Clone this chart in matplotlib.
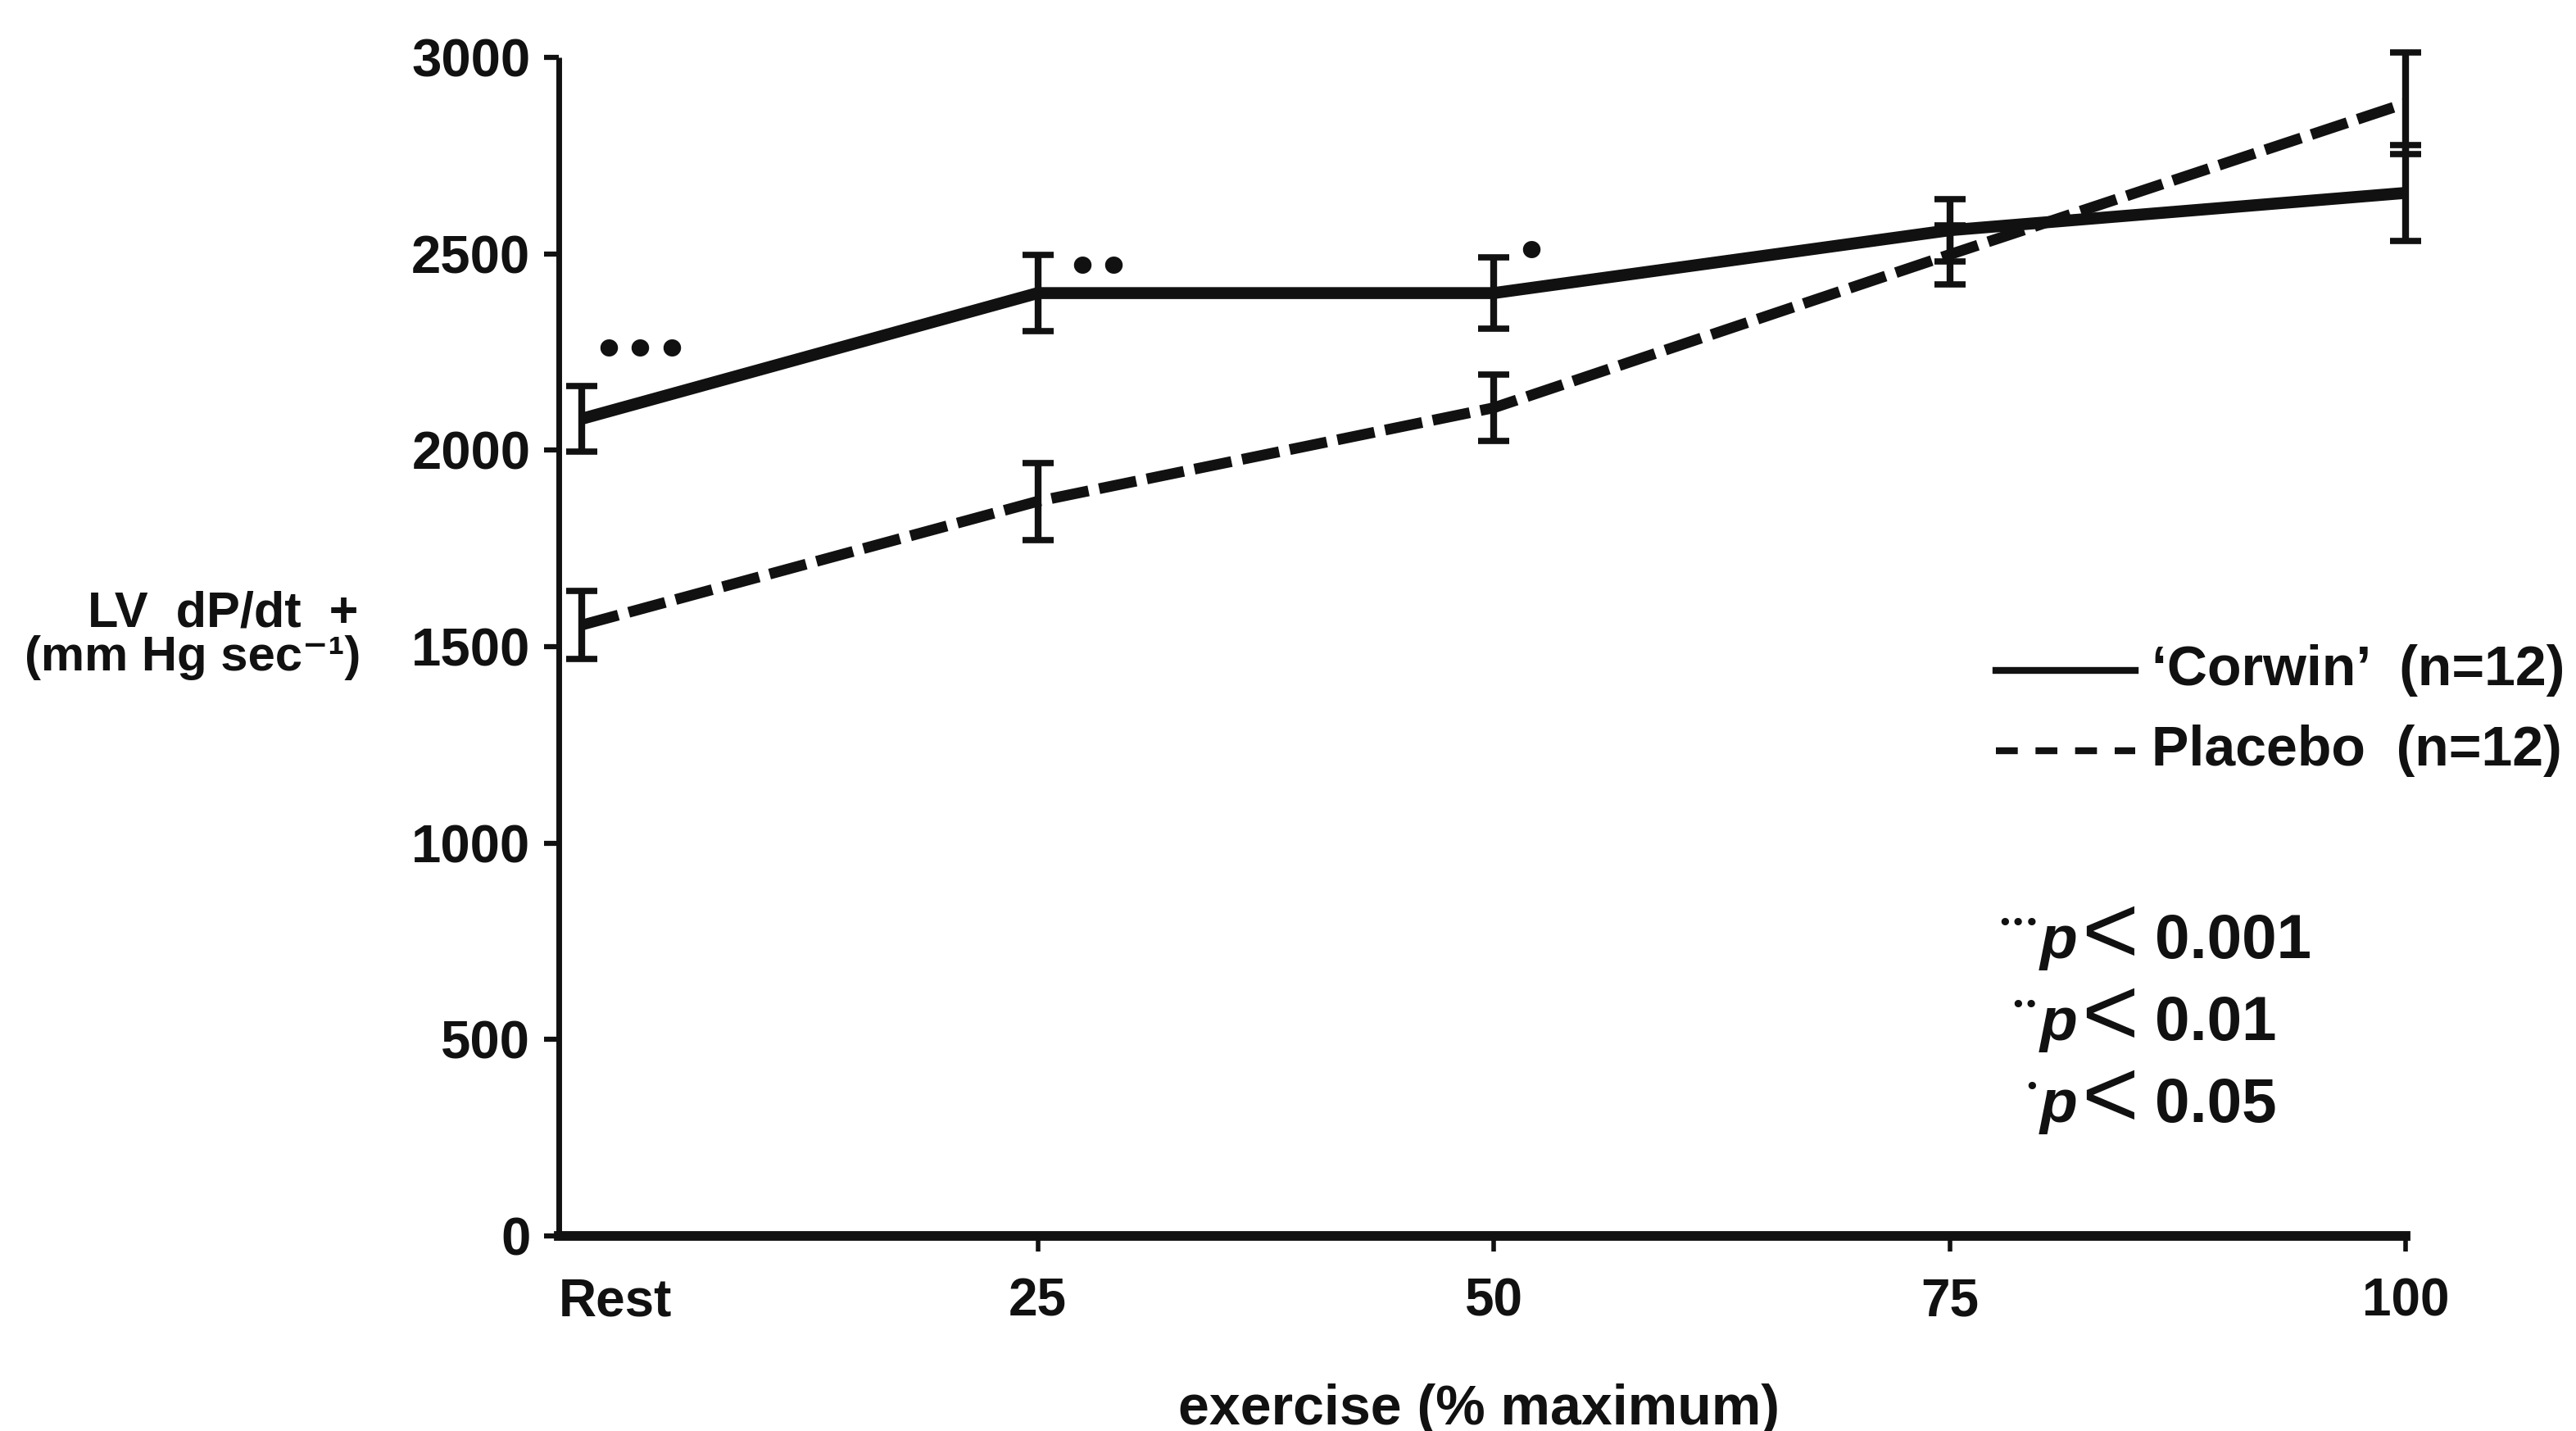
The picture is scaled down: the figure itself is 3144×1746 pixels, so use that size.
import matplotlib
matplotlib.use("Agg")
import matplotlib.pyplot as plt
from matplotlib.lines import Line2D

# exercise stages (% of maximum)
stages = ["Rest", "25", "50", "75", "100"]
exercise_pct = [0, 25, 50, 75, 100]

# LV dP/dt+ (mm Hg/s), mean and SEM
corwin_mean = [2080, 2400, 2400, 2560, 2655]
corwin_sem = [84, 97, 90, 80, 122]
placebo_mean = [1555, 1870, 2108, 2498, 2883]
placebo_sem = [86, 98, 84, 75, 130]

# significance dots above the Corwin points
corwin_sig = ["•••", "••", "•", "", ""]
sig_offsets = [(72, 80), (74, 28), (46, 47), (0, 0), (0, 0)]

legend_labels = ["\u2018Corwin\u2019  (n=12)", "Placebo  (n=12)"]
p_marks = ["•••", "••", "•"]
p_values = ["0.001", "0.01", "0.05"]

y_ticks = [0, 500, 1000, 1500, 2000, 2500, 3000]

W, H = 3144, 1746
INK = "#111111"

plt.rcParams["font.family"] = ["Liberation Sans", "DejaVu Sans"]
plt.rcParams["font.weight"] = "bold"
plt.rcParams["text.color"] = INK


def fx(x):
    return x / W


def fy(y):
    return 1 - y / H


fig = plt.figure(figsize=(W / 100, H / 100), dpi=100, facecolor="white")
ax = fig.add_axes([fx(682), fy(1508), (2936 - 682) / W, (1508 - 70) / H])
ax.set_facecolor("none")

x_left = -1.26
ax.set_xlim(x_left, 100)
ax.set_ylim(0, 3000)

# lines
ax.plot(exercise_pct, corwin_mean, color=INK, lw=10.5, solid_capstyle="butt",
        solid_joinstyle="round", clip_on=False, zorder=3)
ax.plot(exercise_pct, placebo_mean, color=INK, lw=9.5, linestyle=(0, (3.5, 1.0)),
        clip_on=False, zorder=3)

# error bars
for mean, sem in [(corwin_mean, corwin_sem), (placebo_mean, placebo_sem)]:
    eb = ax.errorbar(exercise_pct, mean, yerr=sem, fmt="none", ecolor=INK,
                     elinewidth=6, capsize=14, capthick=5.5, zorder=4)
    for art in eb.lines[1] + eb.lines[2]:
        art.set_clip_on(False)

# significance dots
for x, y, mark, off in zip(exercise_pct, corwin_mean, corwin_sig, sig_offsets):
    if mark:
        ax.annotate(mark, (x, y), xytext=off, textcoords="offset pixels",
                    ha="center", va="center", fontsize=44, family="DejaVu Sans",
                    color=INK)

# axes styling
for side in ["top", "right"]:
    ax.spines[side].set_visible(False)
ax.spines["left"].set_linewidth(5)
ax.spines["bottom"].set_linewidth(8.5)
ax.spines["left"].set_color(INK)
ax.spines["bottom"].set_color(INK)
ax.spines["left"].set_capstyle("butt")

ax.set_yticks(y_ticks)
ax.set_yticklabels([str(v) for v in y_ticks])
ax.tick_params(axis="y", direction="out", length=13, width=4.5, pad=12,
               labelsize=47, colors=INK)

ax.set_xticks([x_left] + exercise_pct[1:])
ax.set_xticklabels(stages)
ax.tick_params(axis="x", direction="out", length=14, width=4, pad=22,
               labelsize=46, colors=INK)
ax.get_xticklines()[0].set_visible(False)
ax.get_xticklabels()[0].set_horizontalalignment("left")

# axis titles
fig.text(fx(437), fy(764), "LV  dP/dt  +", ha="right", va="baseline", fontsize=44)
fig.text(fx(440), fy(818), "(mm Hg sec\u207b\u00b9)", ha="right", va="baseline",
         fontsize=43)
fig.text(fx(1805), fy(1738), "exercise (% maximum)", ha="center", va="baseline",
         fontsize=49)

# legend
leg_y = [818, 916]
leg_styles = ["-", (0, (3.2, 2.6))]
for ly, lab, ls in zip(leg_y, legend_labels, leg_styles):
    fig.add_artist(Line2D([fx(2436), fx(2606)], [fy(ly), fy(ly)], color=INK,
                          lw=6, linestyle=ls, transform=fig.transFigure))
    fig.text(fx(2626), fy(ly + 18), lab, ha="left", va="baseline", fontsize=49)

# p-value key
p_base = [1169, 1269, 1369]
for by, mark, val in zip(p_base, p_marks, p_values):
    fig.text(fx(2488), fy(by - 34), mark, ha="right", va="baseline", fontsize=19,
             family="DejaVu Sans")
    fig.text(fx(2490), fy(by), "p", ha="left", va="baseline", fontsize=54,
             style="italic")
    fig.text(fx(2540), fy(by + 6), "<", ha="left", va="baseline", fontsize=86,
             weight="normal")
    fig.text(fx(2630), fy(by), val, ha="left", va="baseline", fontsize=55)

fig.savefig("out.png", dpi=100, facecolor="white")
